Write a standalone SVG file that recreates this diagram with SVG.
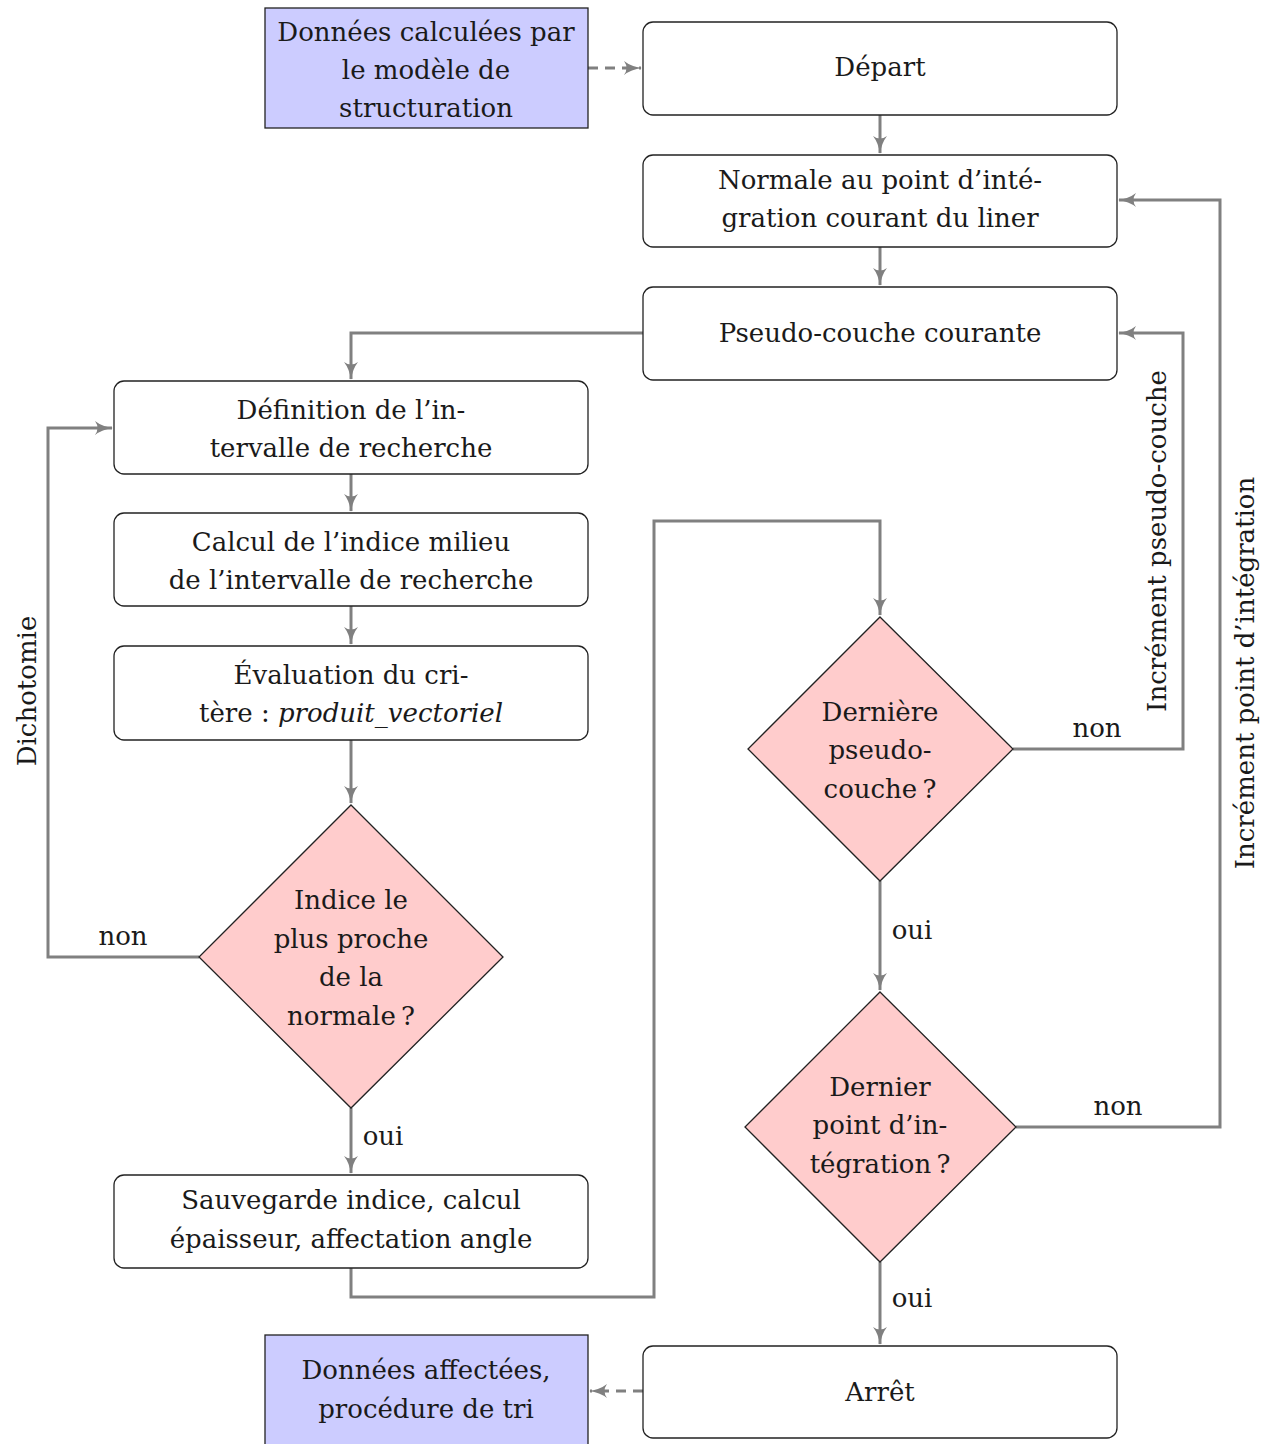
<svg xmlns="http://www.w3.org/2000/svg" width="1263" height="1444" viewBox="0 0 1263 1444">
<style>
text{font-family:"DejaVu Serif","Liberation Serif",serif;font-size:26px;fill:#1a1a1a;text-anchor:middle;dominant-baseline:central}
.box{fill:#fff;stroke:#222;stroke-width:1.3}
.data{fill:#ccccff;stroke:#222;stroke-width:1.3}
.dia{fill:#ffcccc;stroke:#222;stroke-width:1.3}
.c{fill:none;stroke:#808080;stroke-width:3;marker-end:url(#ah)}
.d{stroke-dasharray:10 7}
</style>
<defs>
<marker id="ah" viewBox="0 0 18 14" refX="17" refY="7" markerWidth="18" markerHeight="14" markerUnits="userSpaceOnUse" orient="auto">
<path d="M0,0 Q7,5.5 18,7 Q7,8.5 0,14 Q5,7 0,0 Z" fill="#808080"/>
</marker>
</defs>
<g id="connectors">
<path class="c d" d="M588,68 H641"/>
<path class="c" d="M880,115 V153"/>
<path class="c" d="M880,247 V285"/>
<path class="c" d="M643,333 H351 V379"/>
<path class="c" d="M351,474 V511"/>
<path class="c" d="M351,606 V644"/>
<path class="c" d="M351,740 V803"/>
<path class="c" d="M351,1108 V1173"/>
<path class="c" d="M199,957 H48 V428 H112"/>
<path class="c" d="M351,1268 V1297 H654 V521 H880 V615"/>
<path class="c" d="M1013,749 H1183 V333 H1119"/>
<path class="c" d="M880,881 V990"/>
<path class="c" d="M1016,1127 H1220 V200 H1119"/>
<path class="c" d="M880,1262 V1344"/>
<path class="c d" d="M643,1391 H590"/>
<text x="383" y="1136">oui</text>
<text x="123" y="936">non</text>
<text transform="translate(27,691) rotate(-90)">Dichotomie</text>
<text x="1097" y="728">non</text>
<text transform="translate(1157,541) rotate(-90)">Incrément pseudo-couche</text>
<text x="912" y="930">oui</text>
<text x="1118" y="1106">non</text>
<text transform="translate(1245,673) rotate(-90)">Incrément point d’intégration</text>
<text x="912" y="1298">oui</text>
</g>
<g id="donnees-calculees">
<rect class="data" x="265" y="8" width="323" height="120"/>
<text x="426" y="32">Données calculées par</text>
<text x="426" y="70">le modèle de</text>
<text x="426" y="108">structuration</text>
</g>
<g id="depart">
<rect class="box" x="643" y="22" width="474" height="93" rx="10"/>
<text x="880" y="67">Départ</text>
</g>
<g id="normale">
<rect class="box" x="643" y="155" width="474" height="92" rx="10"/>
<text x="880" y="180">Normale au point d’inté-</text>
<text x="880" y="218">gration courant du liner</text>
</g>
<g id="pseudo-couche">
<rect class="box" x="643" y="287" width="474" height="93" rx="10"/>
<text x="880" y="333">Pseudo-couche courante</text>
</g>
<g id="definition">
<rect class="box" x="114" y="381" width="474" height="93" rx="10"/>
<text x="351" y="410">Définition de l’in-</text>
<text x="351" y="448">tervalle de recherche</text>
</g>
<g id="calcul">
<rect class="box" x="114" y="513" width="474" height="93" rx="10"/>
<text x="351" y="542">Calcul de l’indice milieu</text>
<text x="351" y="580">de l’intervalle de recherche</text>
</g>
<g id="evaluation">
<rect class="box" x="114" y="646" width="474" height="94" rx="10"/>
<text x="351" y="675">Évaluation du cri-</text>
<text x="351" y="713">tère : <tspan font-style="italic">produit_vectoriel</tspan></text>
</g>
<g id="indice">
<path class="dia" d="M351,805 L503,957 L351,1108 L199,957 Z"/>
<text x="351" y="900">Indice le</text>
<text x="351" y="939">plus proche</text>
<text x="351" y="977">de la</text>
<text x="351" y="1016">normale&#8201;?</text>
</g>
<g id="sauvegarde">
<rect class="box" x="114" y="1175" width="474" height="93" rx="10"/>
<text x="351" y="1200">Sauvegarde indice, calcul</text>
<text x="351" y="1239">épaisseur, affectation angle</text>
</g>
<g id="derniere-pseudo-couche">
<path class="dia" d="M880,617 L1013,749 L880,881 L748,749 Z"/>
<text x="880" y="712">Dernière</text>
<text x="880" y="750">pseudo-</text>
<text x="880" y="789">couche&#8201;?</text>
</g>
<g id="dernier-point">
<path class="dia" d="M880,992 L1016,1127 L880,1262 L745,1127 Z"/>
<text x="880" y="1087">Dernier</text>
<text x="880" y="1125">point d’in-</text>
<text x="880" y="1164">tégration&#8201;?</text>
</g>
<g id="arret">
<rect class="box" x="643" y="1346" width="474" height="92" rx="10"/>
<text x="880" y="1392">Arrêt</text>
</g>
<g id="donnees-affectees">
<rect class="data" x="265" y="1335" width="323" height="125"/>
<text x="426" y="1370">Données affectées,</text>
<text x="426" y="1409">procédure de tri</text>
</g>
</svg>
